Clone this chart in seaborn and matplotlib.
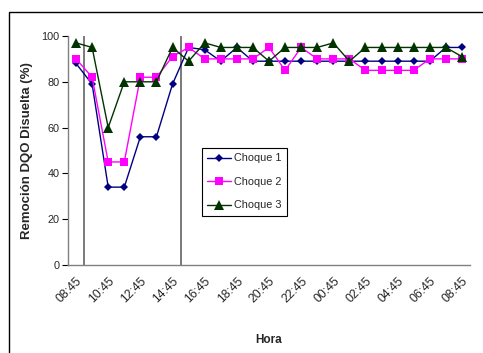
import matplotlib
matplotlib.use("Agg")
import matplotlib.pyplot as plt
import seaborn as sns
import pandas as pd
from matplotlib.patches import Rectangle
from matplotlib.lines import Line2D

# Sampling times (hourly, 08:45 to 08:45 next day)
horas = ["08:45", "09:45", "10:45", "11:45", "12:45", "13:45", "14:45", "15:45",
         "16:45", "17:45", "18:45", "19:45", "20:45", "21:45", "22:45", "23:45",
         "00:45", "01:45", "02:45", "03:45", "04:45", "05:45", "06:45", "07:45",
         "08:45"]

choque_1 = [88, 79, 34, 34, 56, 56, 79, 95, 94, 89, 95, 89, 89, 89, 89, 89,
            89, 89, 89, 89, 89, 89, 89, 95, 95]
choque_2 = [90, 82, 45, 45, 82, 82, 91, 95, 90, 90, 90, 90, 95, 85, 95, 90,
            90, 90, 85, 85, 85, 85, 90, 90, 90]
choque_3 = [97, 95, 60, 80, 80, 80, 95, 89, 97, 95, 95, 95, 89, 95, 95, 95,
            97, 89, 95, 95, 95, 95, 95, 95, 91]

series = {"Choque 1": choque_1, "Choque 2": choque_2, "Choque 3": choque_3}
rows = []
for name, vals in series.items():
    for i, v in enumerate(vals):
        rows.append({"idx": i, "Remoción": v, "Serie": name})
df = pd.DataFrame(rows)

sns.set_style("white")
plt.rcParams["font.family"] = ["Liberation Sans", "DejaVu Sans"]

fig = plt.figure(figsize=(4.83, 3.53), dpi=100)
ax = fig.add_axes([68 / 483, 1 - 265 / 353, 402 / 483, 229 / 353])

palette = {"Choque 1": "#000080", "Choque 2": "#FF00FF", "Choque 3": "#003300"}
markers = {"Choque 1": "D", "Choque 2": "s", "Choque 3": "^"}
sizes_m = {"Choque 1": 4.5, "Choque 2": 5.5, "Choque 3": 6.5}

sns.lineplot(data=df, x="idx", y="Remoción", hue="Serie", style="Serie",
             palette=palette, markers=markers, dashes=False, linewidth=1.0,
             markeredgewidth=0, ax=ax, legend=False)
for line, name in zip(ax.get_lines(), series.keys()):
    line.set_markersize(sizes_m[name])

# Shock markers
for xv in (0.5, 6.5):
    ax.axvline(xv, color="#707070", linewidth=1.3, zorder=1)

ax.set_xlim(-0.5, len(horas) - 0.5)
ax.set_ylim(0, 100)
ax.set_yticks(range(0, 101, 20))

ax.set_xticks(range(0, len(horas), 2))
ax.set_xticklabels(horas[::2], rotation=45, ha="right", rotation_mode="anchor")
ax.set_xticks([i - 0.5 for i in range(len(horas) + 1)], minor=True)
ax.tick_params(axis="x", which="major", length=0, pad=7, labelsize=8.8)
ax.tick_params(axis="x", which="minor", length=4, width=0.8, color="#000000",
               direction="inout")
ax.tick_params(axis="y", length=4, width=0.8, color="#000000", labelsize=7.8,
               direction="out", left=True, pad=2)

for side in ("top", "right"):
    ax.spines[side].set_visible(False)
for side in ("left", "bottom"):
    ax.spines[side].set_color("#808080")
    ax.spines[side].set_linewidth(1.0)

ax.set_xlabel("Hora", fontsize=8.5, fontweight="bold", labelpad=21)
ax.set_ylabel("Remoción DQO Disuelta (%)", fontsize=9.5, fontweight="bold",
              labelpad=6)

# Legend
handles = [Line2D([], [], color=palette[n], marker=markers[n],
                  markersize=sizes_m[n], markeredgewidth=0, linewidth=1.0)
           for n in series]
leg = ax.legend(handles, list(series.keys()), loc="upper left",
                bbox_to_anchor=((202 - 68) / 402, (265 - 148) / 229),
                fontsize=7.8, frameon=True, fancybox=False, framealpha=1,
                edgecolor="#000000", handlelength=2.2, handletextpad=0.25,
                labelspacing=1.25, borderpad=0.5, borderaxespad=0)
leg.get_frame().set_linewidth(0.8)

# Outer chart frame
fig.patches.append(Rectangle((9 / 483, -0.1), 1.2, 1 - 12 / 353 + 0.1,
                             transform=fig.transFigure, fill=False,
                             edgecolor="#000000", linewidth=1.0))

fig.savefig("out.png", dpi=100)
